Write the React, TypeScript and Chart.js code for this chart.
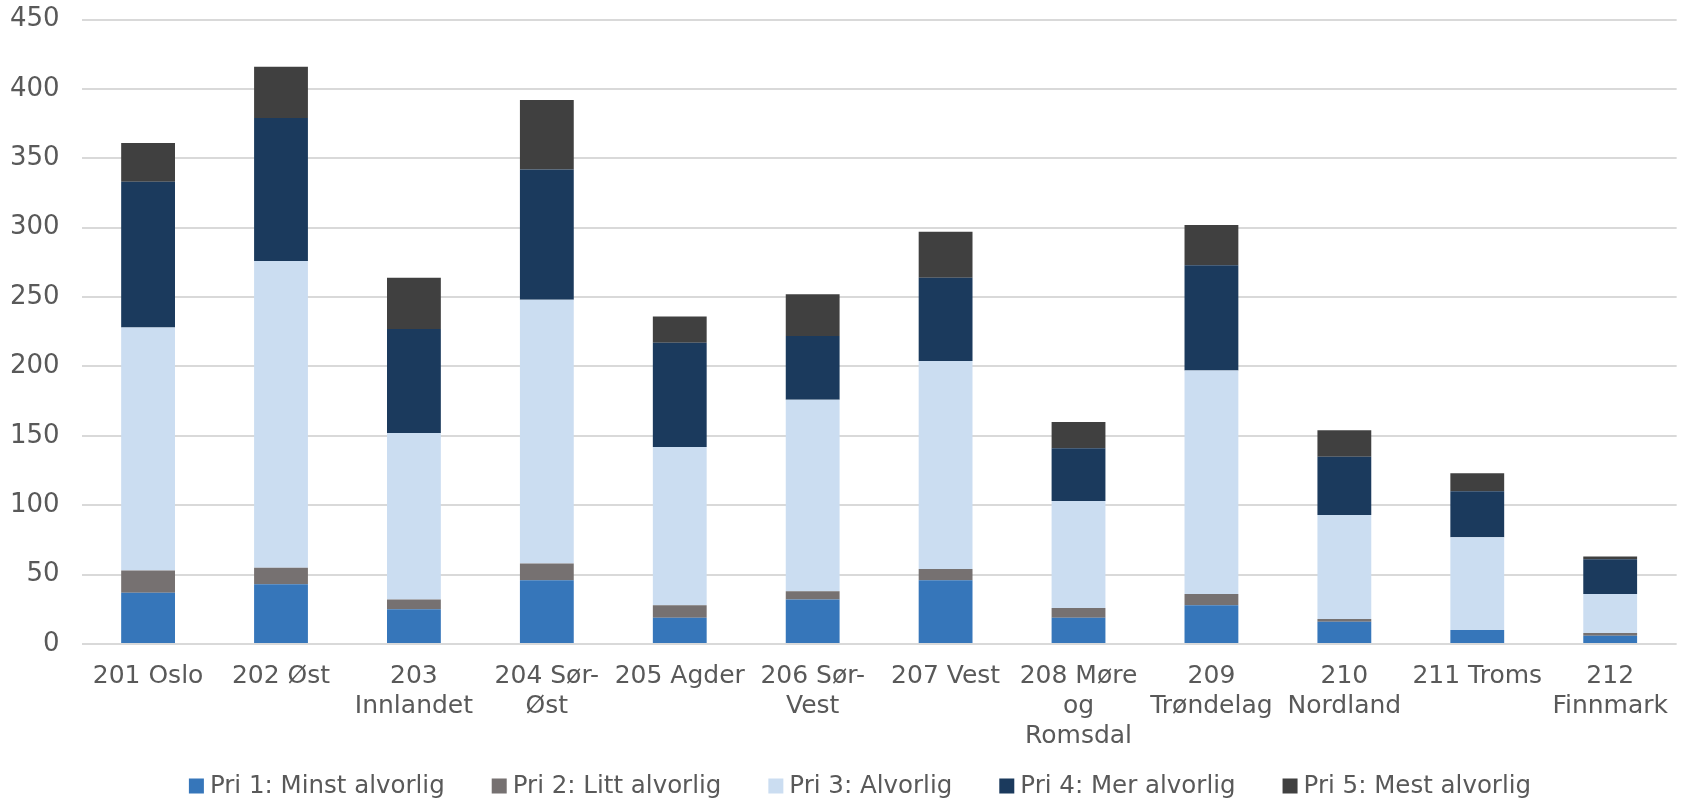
import React, { useEffect, useRef } from "react";
import { Chart, registerables } from "chart.js";

Chart.register(...registerables);

const categories: (string | string[])[] = [
  "201 Oslo",
  "202 Øst",
  ["203", "Innlandet"],
  ["204 Sør-", "Øst"],
  "205 Agder",
  ["206 Sør-", "Vest"],
  "207 Vest",
  ["208 Møre", "og", "Romsdal"],
  ["209", "Trøndelag"],
  ["210", "Nordland"],
  "211 Troms",
  ["212", "Finnmark"],
];

const pri1 = [37, 43, 25, 46, 19, 32, 46, 19, 28, 16, 10, 6];
const pri2 = [16, 12, 7, 12, 9, 6, 8, 7, 8, 2, 0, 2];
const pri3 = [175, 221, 120, 190, 114, 138, 150, 77, 161, 75, 67, 28];
const pri4 = [105, 103, 75, 94, 75, 46, 60, 38, 76, 42, 33, 25];
const pri5 = [28, 37, 37, 50, 19, 30, 33, 19, 29, 19, 13, 2];

const seriesNames = [
  "Pri 1: Minst alvorlig",
  "Pri 2: Litt alvorlig",
  "Pri 3: Alvorlig",
  "Pri 4: Mer alvorlig",
  "Pri 5: Mest alvorlig",
];
const seriesColors = ["#3676BA", "#767171", "#CBDDF1", "#1B3A5D", "#404040"];
const yTicks = [0, 50, 100, 150, 200, 250, 300, 350, 400, 450];

const FONT = "'DejaVu Sans', Verdana, sans-serif";

const legendPlugin = {
  id: "bottomLegend",
  afterDraw(chart: any) {
    const ctx = chart.ctx as CanvasRenderingContext2D;
    const box = 15;
    const boxGap = 6;
    const itemGap = 47;
    const fontSize = 24.5;
    ctx.save();
    ctx.font = `${fontSize}px ${FONT}`;
    ctx.textBaseline = "middle";
    ctx.textAlign = "left";
    const items = chart.data.datasets.map((ds: any) => ({
      text: ds.label as string,
      color: ds.backgroundColor as string,
      w: ctx.measureText(ds.label).width,
    }));
    const total =
      items.reduce((s: number, it: any) => s + box + boxGap + it.w, 0) +
      itemGap * (items.length - 1);
    const cy = chart.height - 16;
    let x = 860 - total / 2;
    for (const it of items) {
      ctx.fillStyle = it.color;
      ctx.fillRect(x, cy - box / 2, box, box);
      x += box + boxGap;
      ctx.fillStyle = "#595959";
      ctx.fillText(it.text, x, cy + 1);
      x += it.w + itemGap;
    }
    ctx.restore();
  },
};

export default function App() {
  const ref = useRef<HTMLCanvasElement | null>(null);

  useEffect(() => {
    document.body.style.margin = "0";
    const canvas = ref.current;
    if (!canvas) return;
    const values = [pri1, pri2, pri3, pri4, pri5];
    const chart = new Chart(canvas, {
      type: "bar",
      data: {
        labels: categories,
        datasets: values.map((v, i) => ({
          label: seriesNames[i],
          data: v,
          backgroundColor: seriesColors[i],
          borderWidth: 0,
          categoryPercentage: 1,
          barPercentage: 0.405,
        })),
      },
      plugins: [legendPlugin],
      options: {
        animation: false,
        responsive: false,
        maintainAspectRatio: false,
        layout: { padding: { top: 19.5, right: 0, left: 10, bottom: 34 } },
        plugins: {
          legend: { display: false },
          tooltip: { enabled: false },
        },
        scales: {
          x: {
            stacked: true,
            grid: { display: false, drawTicks: false },
            border: { display: false },
            ticks: {
              font: { family: FONT, size: 25, lineHeight: 1.2 },
              color: "#595959",
              maxRotation: 0,
              autoSkip: false,
              padding: 17,
            },
          },
          y: {
            stacked: true,
            min: 0,
            max: 450,
            afterBuildTicks: (axis: any) => {
              axis.ticks = yTicks.map((t) => ({ value: t }));
            },
            grid: {
              color: "#D9D9D9",
              lineWidth: 2,
              drawTicks: true,
              tickLength: 22,
              tickColor: "rgba(0,0,0,0)",
            },
            border: { display: false },
            ticks: {
              font: { family: FONT, size: 26 },
              color: "#595959",
              padding: 0,
            },
          },
        },
      },
    });
    return () => chart.destroy();
  }, []);

  return (
    <div style={{ width: 1685, height: 802 }}>
      <canvas ref={ref} width={1685} height={802} style={{ display: "block" }} />
    </div>
  );
}
